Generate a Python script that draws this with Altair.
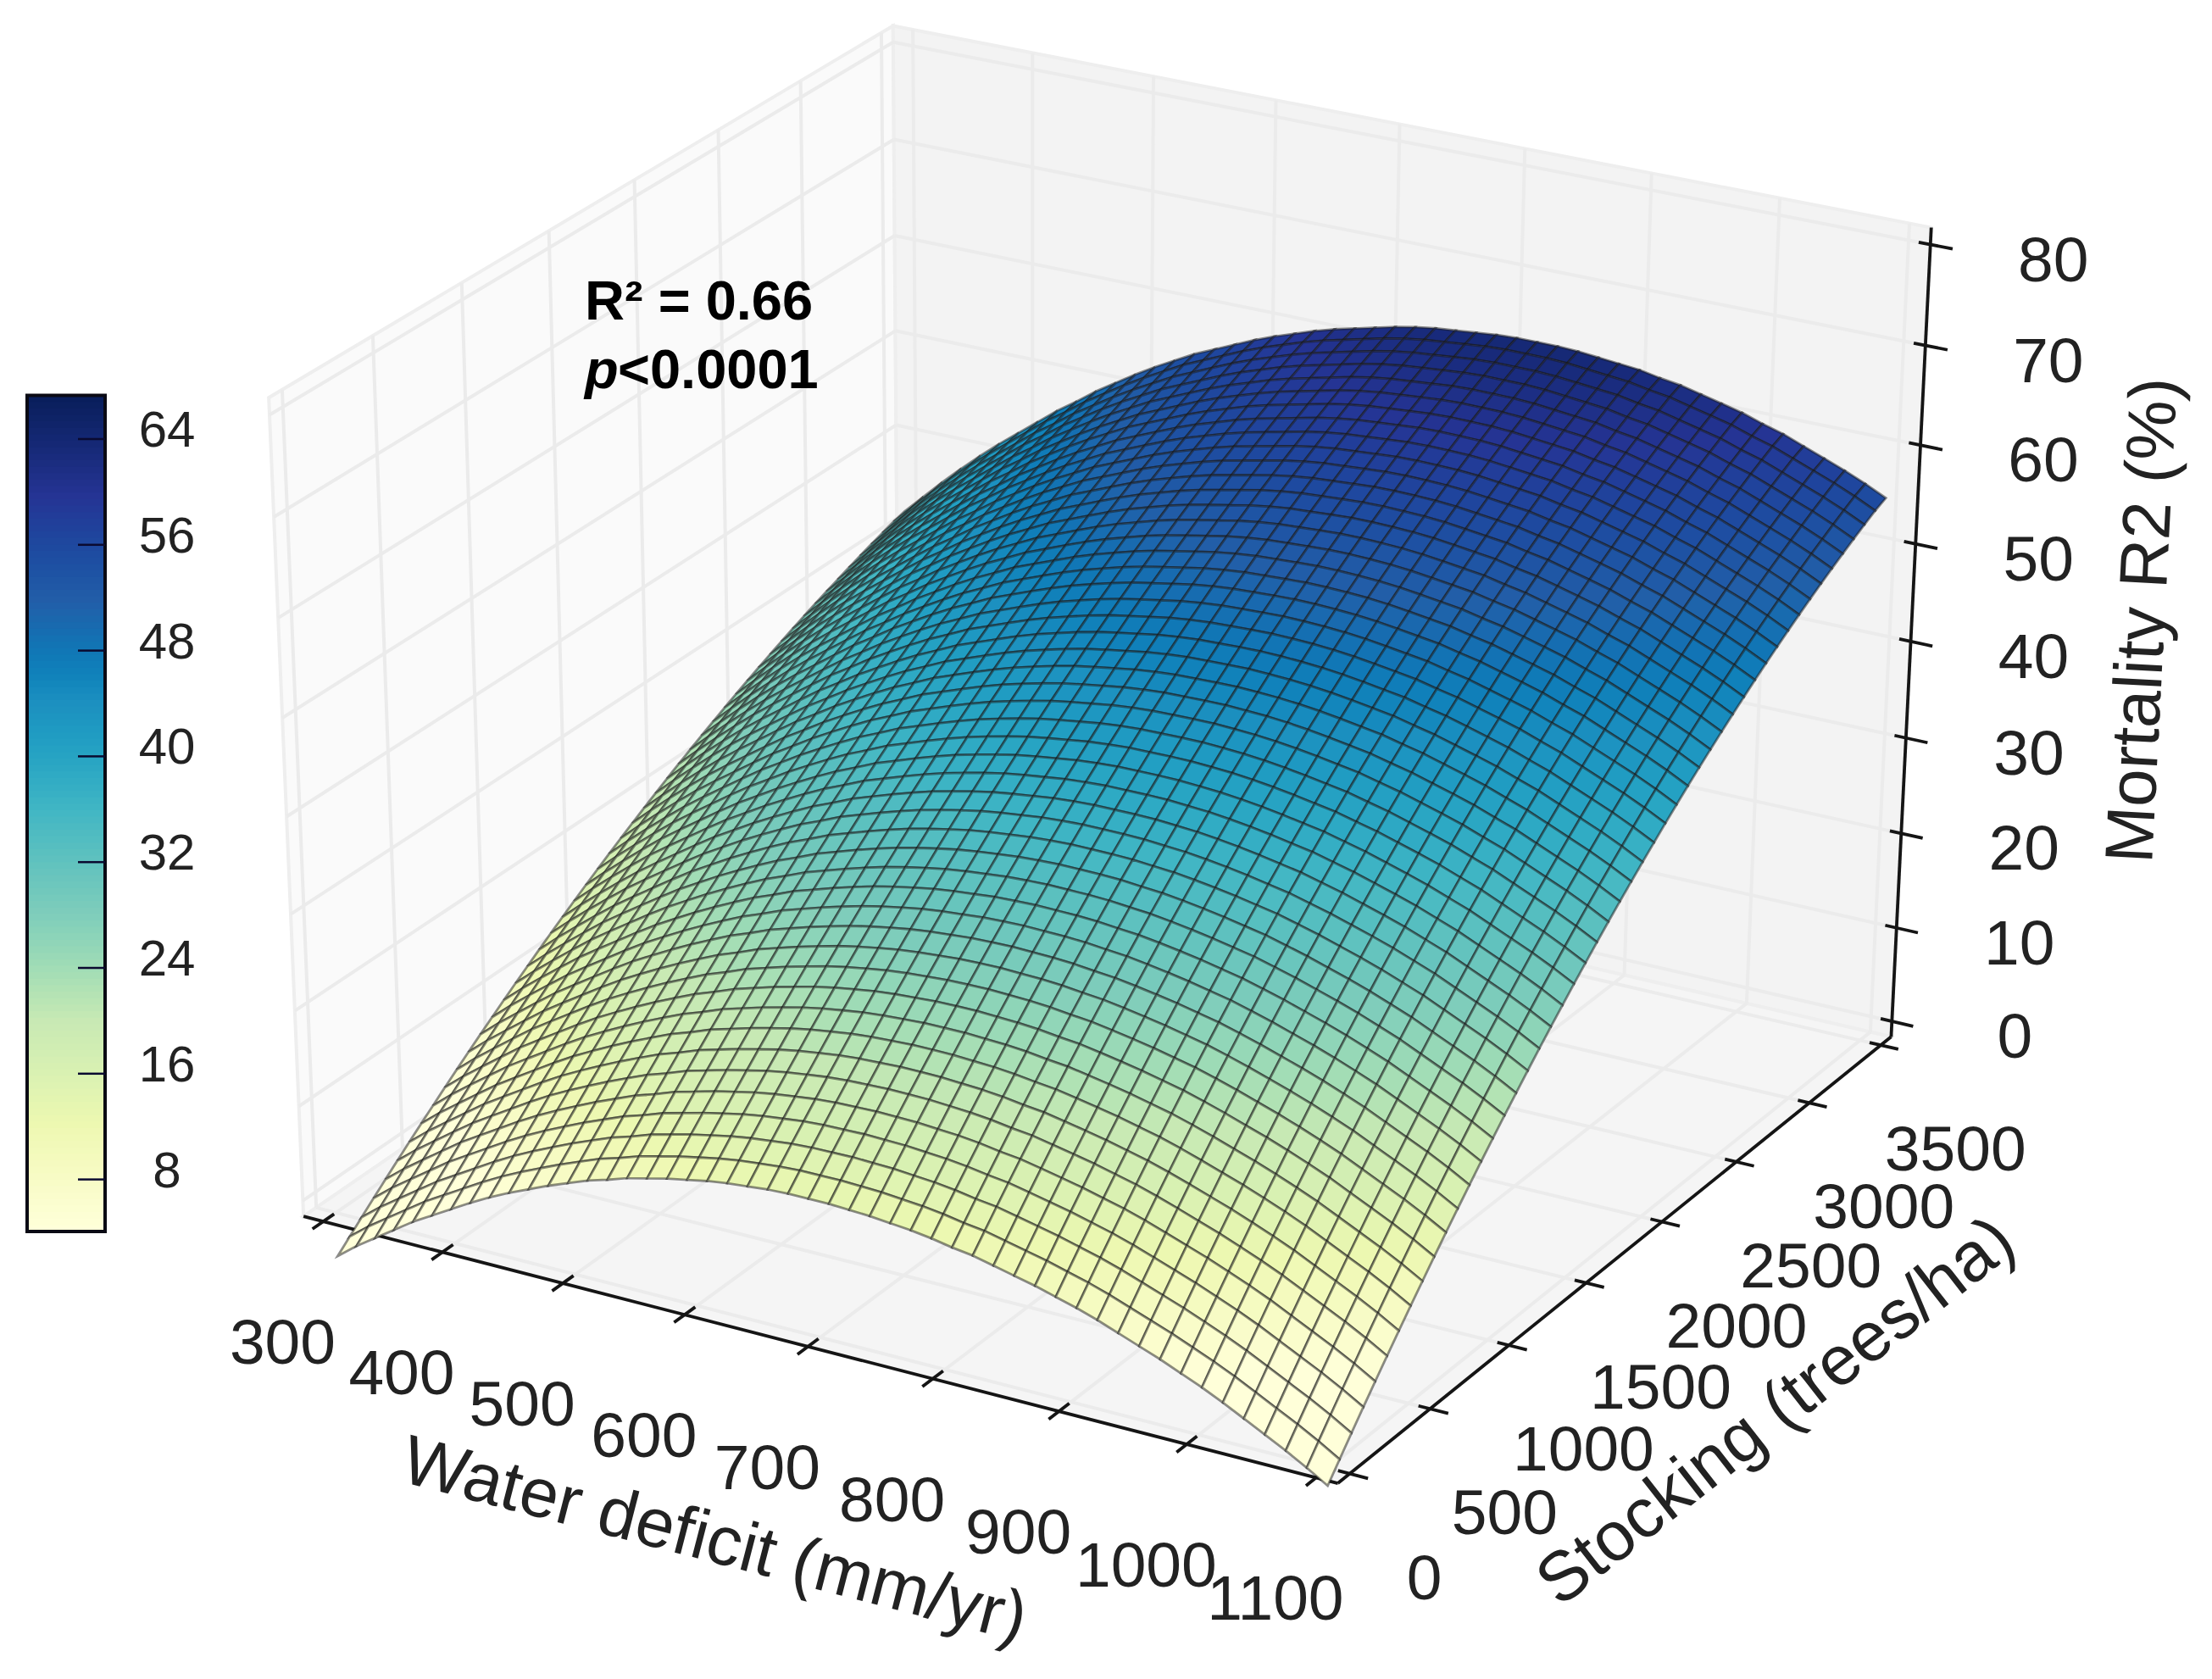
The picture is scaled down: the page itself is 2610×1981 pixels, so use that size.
import numpy as np
import altair as alt

# ---- values -----------------------------------------------------------
x_ticks = [300, 400, 500, 600, 700, 800, 900, 1000, 1100]
y_ticks = [0, 500, 1000, 1500, 2000, 2500, 3000, 3500]
z_ticks = [0, 10, 20, 30, 40, 50, 60, 70, 80]
cb_ticks = [8, 16, 24, 32, 40, 48, 56, 64]

# height of the surface along its near edge (stocking 0), one value per mesh line
near_edge = [-6.3,-4.7,-3.3,-1.9,-0.5,0.7,1.9,3.1,4.2,5.2,6.1,7.0,7.8,8.6,9.2,9.9,10.4,10.9,11.3,11.7,
             12.0,12.2,12.4,12.5,12.5,12.5,12.4,12.3,12.1,11.9,11.6,11.2,10.9,10.4,9.9,9.4,8.8,8.2,7.5,6.7,
             5.9,5.1,4.2,3.3,2.3,1.2,0.1,-1.0,-2.2,-3.5]
# height along its far edge (stocking 3500)
far_edge = [32.0,34.0,36.0,37.9,39.7,41.4,43.0,44.6,46.2,47.6,49.1,50.4,51.7,52.9,54.0,55.1,56.0,56.9,57.8,58.6,
            59.3,60.0,60.6,61.1,61.6,62.1,62.5,62.8,63.0,63.2,63.4,63.5,63.5,63.5,63.4,63.2,63.0,62.8,62.4,62.1,
            61.6,61.1,60.6,59.9,59.3,58.5,57.7,56.9,56.0,55.0]
# share of the near-to-far rise reached at each stocking mesh line
rise_share = [0,.0303,.0603,.0898,.1189,.1476,.1758,.2037,.2311,.2582,.2848,.3110,.3368,.3622,.3872,.4118,.4359,
              .4596,.4830,.5059,.5284,.5505,.5722,.5935,.6144,.6348,.6548,.6744,.6936,.7125,.7308,.7488,.7663,
              .7835,.8002,.8165,.8324,.8479,.8630,.8777,.8920,.9059,.9193,.9323,.9449,.9571,.9690,.9804,.9914,1.0]

ylgnbu = ['#ffffd9','#edf8b1','#c7e9b4','#7fcdbb','#41b6c4','#1d91c0','#225ea8','#253494','#081d58']
CB_MIN, CB_MAX = 4.06, 67.3

# ---- view calibration: (x, y, z) -> reference pixel -----------------------
XA, XB = 283.3, 1116.7
YA, YB = -73.0, 3573.0
ZA, ZB = -1.67, 81.67
calib = [
    (300,YA,ZA,380,1442),(400,YA,ZA,523,1478),(500,YA,ZA,665,1517),(1100,YA,ZA,1545,1747),
    (XB,0,ZA,1597,1740),(XB,500,ZA,1687,1660),(XB,1000,ZA,1780,1585),(XB,1500,ZA,1873,1512),
    (XB,3000,ZA,2135,1300),(XB,3500,ZA,2220,1232),
    (XB,YB,0,2233,1205),(XB,YB,10,2238,1095),(XB,YB,50,2260,643),(XB,YB,60,2267,527),
    (XB,YB,70,2272,408),(XB,YB,80,2277,288),
    (XA,YB,ZB,1055,30),(XA,YA,ZB,318,467),(XA,YA,ZA,360,1433),(XA,YB,50,1055,390),(XA,YB,40,1055,503),
]
def norm(p):
    return np.array([p[0]/1000.0, p[1]/1000.0, p[2]/100.0, 1.0])
rows = []
for c in calib:
    X = norm(c)
    rows.append(np.r_[X, np.zeros(4), -c[3]/1000.0*X])
    rows.append(np.r_[np.zeros(4), X, -c[4]/1000.0*X])
P = np.linalg.svd(np.array(rows))[2][-1].reshape(3, 4)
def proj(x, y, z):
    h = P @ norm((x, y, z))
    return float(h[0]/h[2]*1000), float(h[1]/h[2]*1000)

# ---- layers ---------------------------------------------------------------
W, H = 2594, 1965
sx = alt.Scale(domain=[8, 2602], range=[0, W])
sy = alt.Scale(domain=[8, 1973], range=[0, H])
cs = alt.Scale(domain=[float(v) for v in np.linspace(CB_MIN, CB_MAX, 9)], range=ylgnbu, clamp=True)
geo = dict(type='identity', scale=1, translate=[0, 0])

def poly(corners, **props):
    ring = [[a-8, b-8] for a, b in (proj(*c) for c in corners)]
    ring.append(ring[0])
    return {"type": "Feature", "properties": props, "geometry": {"type": "Polygon", "coordinates": [ring]}}

# panes
def pane(corners, colour):
    return alt.Chart(alt.InlineData(values=[poly(corners)])).mark_geoshape(
        fill=colour, stroke='#eeeeee', strokeWidth=4).project(**geo)
pane_l = pane([(XA,YA,ZA),(XA,YB,ZA),(XA,YB,ZB),(XA,YA,ZB)], '#fafafa')
pane_r = pane([(XA,YB,ZA),(XB,YB,ZA),(XB,YB,ZB),(XA,YB,ZB)], '#f3f3f3')
pane_f = pane([(XA,YA,ZA),(XB,YA,ZA),(XB,YB,ZA),(XA,YB,ZA)], '#f5f5f5')

# lines
def seg(rowsl, gid, a, b):
    for k, p in enumerate((a, b)):
        u, v = proj(*p)
        rowsl.append({'id': gid, 'k': k, 'x': u, 'y': v})

grid = []
g = 0
for t in x_ticks:
    seg(grid, g, (t,YA,ZA), (t,YB,ZA)); g += 1
    seg(grid, g, (t,YB,ZA), (t,YB,ZB)); g += 1
for t in y_ticks:
    seg(grid, g, (XA,t,ZA), (XB,t,ZA)); g += 1
    seg(grid, g, (XA,t,ZA), (XA,t,ZB)); g += 1
for t in z_ticks:
    seg(grid, g, (XA,YA,t), (XA,YB,t)); g += 1
    seg(grid, g, (XA,YB,t), (XB,YB,t)); g += 1

ink = []
g = 0
seg(ink, g, (XA,YA,ZA), (XB,YA,ZA)); g += 1
seg(ink, g, (XB,YA,ZA), (XB,YB,ZA)); g += 1
seg(ink, g, (XB,YB,ZA), (XB,YB,ZB)); g += 1
for t in x_ticks:
    seg(ink, g, (t,YA-62,ZA), (t,YA+62,ZA)); g += 1
for t in y_ticks:
    seg(ink, g, (XB-9,t,ZA), (XB+14,t,ZA)); g += 1
for t in z_ticks:
    seg(ink, g, (XB-9,YB,t), (XB+17,YB,t)); g += 1

def lines(rowsl, color, width):
    return alt.Chart(alt.Data(values=rowsl)).mark_line(color=color, strokeWidth=width).encode(
        x=alt.X('x:Q', scale=sx, axis=None), y=alt.Y('y:Q', scale=sy, axis=None),
        detail='id:N', order='k:Q')

grid_layer = lines(grid, '#ebebeb', 4)
ink_layer = lines(ink, '#151515', 3.8)

# surface
xs = np.linspace(300, 1100, 50)
ys = np.linspace(0, 3500, 50)
zg = np.array([[near_edge[i] + (far_edge[i]-near_edge[i])*rise_share[j] for i in range(50)] for j in range(50)])
cells = []
for j in range(49):
    for i in range(49):
        cor = [(xs[i],ys[j],zg[j,i]),(xs[i+1],ys[j],zg[j,i+1]),(xs[i+1],ys[j+1],zg[j+1,i+1]),(xs[i],ys[j+1],zg[j+1,i])]
        zm = float(np.mean([c[2] for c in cor]))
        xm = float(np.mean([c[0] for c in cor])); ym = float(np.mean([c[1] for c in cor]))
        depth = .433*(xm-XA)/(XB-XA) - .75*(ym-YA)/(YB-YA) + .5*(zm-ZA)/(ZB-ZA)
        cells.append((depth, poly(cor, z=round(zm, 2))))
cells.sort(key=lambda d: d[0])
surf = alt.Chart(alt.InlineData(values=[c[1] for c in cells])).mark_geoshape(
    stroke='#1a1a1a', strokeWidth=2.8, strokeOpacity=0.5).encode(
    fill=alt.Fill('properties.z:Q', scale=cs, legend=None)).project(**geo)

# colour bar
def cb_y(v):
    return 518 + (64 - v)*15.6
levels = np.linspace(CB_MIN, CB_MAX, 130)
cb_rows = [{'z': float(a), 'x': 32, 'x2': 124, 'y': cb_y(a), 'y2': max(cb_y(b)-2, cb_y(CB_MAX))} for a, b in zip(levels[:-1], levels[1:])]
cb = alt.Chart(alt.Data(values=cb_rows)).mark_rect().encode(
    x=alt.X('x:Q', scale=sx, axis=None), x2='x2:Q', y=alt.Y('y:Q', scale=sy, axis=None), y2='y2:Q',
    fill=alt.Fill('z:Q', scale=cs, legend=None))
cb_frame = alt.Chart(alt.Data(values=[{'x': 32, 'x2': 124, 'y': cb_y(CB_MAX), 'y2': cb_y(CB_MIN)}])).mark_rect(
    fillOpacity=0, stroke='#0a0a14', strokeWidth=4).encode(
    x=alt.X('x:Q', scale=sx, axis=None), x2='x2:Q', y=alt.Y('y:Q', scale=sy, axis=None), y2='y2:Q')
cb_tick_rows = []
for n, t in enumerate(cb_ticks):
    cb_tick_rows += [{'id': n, 'k': 0, 'x': 92, 'y': cb_y(t)}, {'id': n, 'k': 1, 'x': 124, 'y': cb_y(t)}]
cb_tick_layer = lines(cb_tick_rows, '#0a0a30', 2.5)

# text
labels = []
for t in x_ticks:
    u, v = proj(t, YA, ZA); labels.append({'t': str(t), 'x': u-48, 'y': v+145})
for t in y_ticks:
    u, v = proj(XB, t, ZA); labels.append({'t': str(t), 'x': u+88, 'y': v+125})
for t in z_ticks:
    u, v = proj(XB, YB, t); labels.append({'t': str(t), 'x': u+145, 'y': v+20})
def texts(rowsl, size, **kw):
    base = dict(font='Liberation Sans', fontSize=size, baseline='middle', align='center', color='#222222')
    base.update(kw)
    return alt.Chart(alt.Data(values=rowsl)).mark_text(**base).encode(
        x=alt.X('x:Q', scale=sx, axis=None), y=alt.Y('y:Q', scale=sy, axis=None), text='t:N')

tick_text = texts(labels, 75)
cb_text = texts([{'t': str(t), 'x': 197, 'y': cb_y(t)-9} for t in cb_ticks], 60)
t_x = texts([{'t': 'Water deficit (mm/yr)', 'x': 843, 'y': 1818}], 82, angle=14.5)
t_y = texts([{'t': 'Stocking (trees/ha)', 'x': 2096, 'y': 1666}], 82, angle=322)
t_z = texts([{'t': 'Mortality R2 (%)', 'x': 2530, 'y': 732}], 80, angle=273)
stat1 = texts([{'t': 'R² = 0.66', 'x': 690, 'y': 377}], 65, fontWeight='bold', align='left', baseline='alphabetic', color='#000000')
stat2 = texts([{'t': 'p', 'x': 690, 'y': 458}], 65, fontWeight='bold', fontStyle='italic', align='left', baseline='alphabetic', color='#000000')
stat3 = texts([{'t': '<0.0001', 'x': 729, 'y': 458}], 65, fontWeight='bold', align='left', baseline='alphabetic', color='#000000')

chart = alt.layer(pane_l, pane_r, pane_f, grid_layer, ink_layer, surf, cb, cb_frame, cb_tick_layer,
                  tick_text, cb_text, t_x, t_y, t_z, stat1, stat2, stat3).properties(
    width=W, height=H, padding=0, autosize=alt.AutoSizeParams(type='none')).configure_view(stroke=None)

chart.save("out.html", embed_options={"renderer": "svg", "actions": False})
